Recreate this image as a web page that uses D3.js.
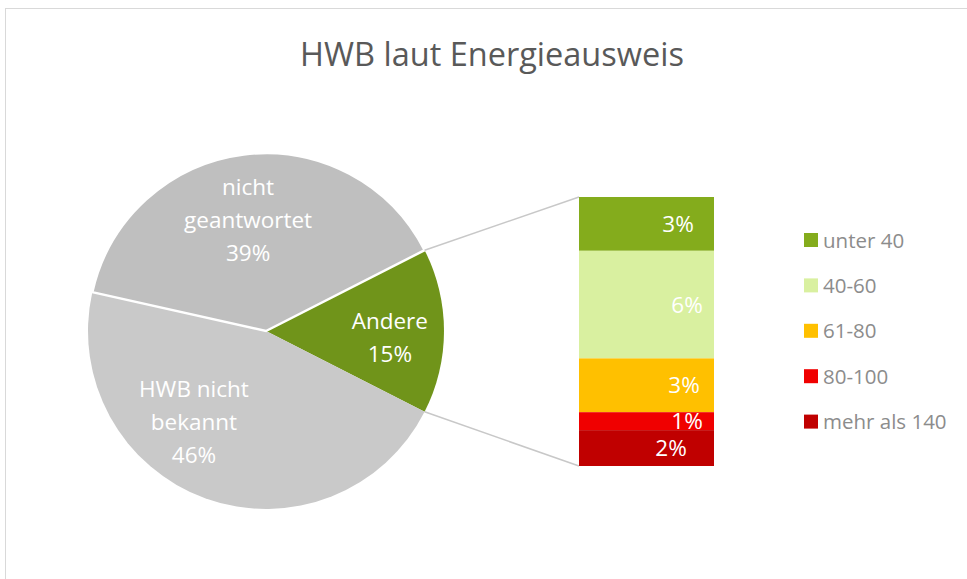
<!DOCTYPE html>
<html>
<head>
<meta charset="utf-8">
<script src="https://cdn.jsdelivr.net/npm/d3@7"></script>
<style>
  html, body { margin: 0; padding: 0; background: #fff; }
  svg { display: block; font-family: "Open Sans", sans-serif; }
</style>
</head>
<body>
<svg id="chart" width="967" height="579"></svg>
<script>
// Daten
var pieNames = ["Andere", "HWB nicht bekannt", "nicht geantwortet"];
var pieLines = [["Andere"], ["HWB nicht", "bekannt"], ["nicht", "geantwortet"]];
var pieValues = [15, 46, 39];
var pieColors = ["#70941a", "#c9c9c9", "#bfbfbf"];
var pieStroke = [0, 0, 2.5]; // nur "nicht geantwortet" hat einen weißen Rand

var barNames = ["unter 40", "40-60", "61-80", "80-100", "mehr als 140"];
var barValues = [3, 6, 3, 1, 2];
var barColors = ["#84ac1c", "#d9f0a0", "#ffc000", "#f00000", "#c00000"];

// Layout (Excel setzt die Beschriftungen etwas versetzt)
var labelShift = [{ da: 3, r: 124 }, { da: 18.6, r: 116 }, { da: -2, r: 112 }];
var barLabelNudge = [-4, 5, 2, 5, -11];

var svg = d3.select("#chart");
var cx = 266, cy = 331, R = 178;
var rad = d => d * Math.PI / 180;

// Rahmen
svg.append("rect").attr("x", 5.5).attr("y", 8.5).attr("width", 990).attr("height", 620)
  .attr("fill", "#fff").attr("stroke", "#d9d9d9").attr("stroke-width", 1);

// Titel
svg.append("text").attr("x", 492).attr("y", 66).attr("text-anchor", "middle")
  .attr("font-size", 32.5).attr("fill", "#595959").text("HWB laut Energieausweis");

// Kreis: "Andere" wird zur rechten Seite gedreht
var total = d3.sum(pieValues);
var start = rad(90) - Math.PI * pieValues[0] / total;
var pie = d3.pie().sort(null).startAngle(start).endAngle(start + 2 * Math.PI);
var arcs = pie(pieValues);
var arc = d3.arc().innerRadius(0).outerRadius(R);

var g = svg.append("g").attr("transform", "translate(" + cx + "," + cy + ")");
g.selectAll("path.slice").data(arcs).join("path")
  .attr("class", "slice")
  .attr("d", arc)
  .attr("fill", (d, i) => pieColors[i])
  .attr("stroke", "#fff")
  .attr("stroke-width", (d, i) => pieStroke[i]);

// Balken
var bx = 579, bw = 135, bTop = 197, bBottom = 466;
var barTotal = d3.sum(barValues);
var y = d3.scaleLinear().domain([0, barTotal]).range([bTop, bBottom]);
var cum = d3.cumsum(barValues);
var segs = barValues.map((v, i) => ({ v: v, y0: cum[i] - v, y1: cum[i], i: i }));

// Verbindungslinien
var a0 = arcs[0];
var edge = a => [cx + R * Math.sin(a), cy - R * Math.cos(a)];
var p0 = edge(a0.startAngle), p1 = edge(a0.endAngle);
svg.append("line").attr("x1", p0[0]).attr("y1", p0[1]).attr("x2", bx).attr("y2", y(0))
  .attr("stroke", "#c8c8c8").attr("stroke-width", 1.5);
svg.append("line").attr("x1", p1[0]).attr("y1", p1[1]).attr("x2", bx).attr("y2", y(barTotal))
  .attr("stroke", "#c8c8c8").attr("stroke-width", 1.5);

svg.selectAll("rect.seg").data(segs).join("rect")
  .attr("class", "seg")
  .attr("x", bx).attr("width", bw)
  .attr("y", d => y(d.y0)).attr("height", d => y(d.y1) - y(d.y0))
  .attr("fill", d => barColors[d.i]);

svg.selectAll("text.barlab").data(segs).join("text")
  .attr("class", "barlab")
  .attr("x", d => 682 + barLabelNudge[d.i])
  .attr("y", d => (y(d.y0) + y(d.y1)) / 2 + 8)
  .attr("text-anchor", "middle").attr("font-size", 22.5).attr("fill", "#fff")
  .text(d => Math.round(d.v / total * 100) + "%");

// Beschriftungen im Kreis
arcs.forEach((d, i) => {
  var mid = (d.startAngle + d.endAngle) / 2 + rad(labelShift[i].da);
  var lx = cx + labelShift[i].r * Math.sin(mid);
  var ly = cy - labelShift[i].r * Math.cos(mid);
  var lines = pieLines[i].concat([Math.round(d.value / total * 100) + "%"]);
  var t = svg.append("text").attr("text-anchor", "middle").attr("font-size", 22.5).attr("fill", "#fff");
  lines.forEach((s, j) => {
    t.append("tspan").attr("x", lx).attr("y", ly + 8 + (j - (lines.length - 1) / 2) * 33).text(s);
  });
});

// Legende
var leg = svg.selectAll("g.leg").data(barNames).join("g")
  .attr("class", "leg")
  .attr("transform", (d, i) => "translate(804," + (240 + i * 45.4) + ")");
leg.append("rect").attr("x", 0).attr("y", -7).attr("width", 14).attr("height", 14)
  .attr("fill", (d, i) => barColors[i]);
leg.append("text").attr("x", 19).attr("y", 7.5).attr("font-size", 20.5).attr("fill", "#8c8c8c")
  .text(d => d);
</script>
</body>
</html>
